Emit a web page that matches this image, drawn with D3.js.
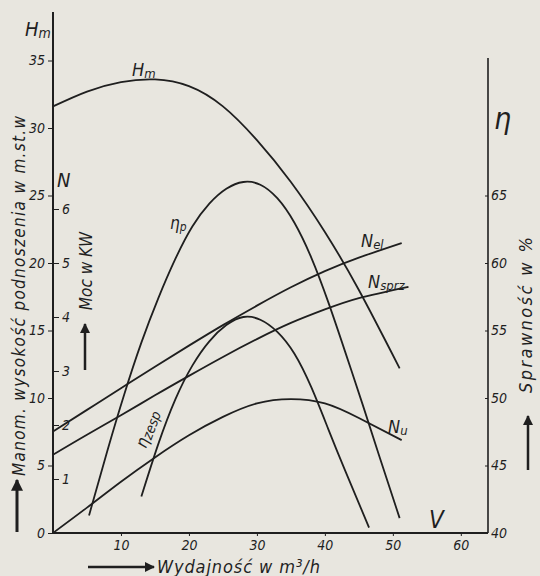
<!DOCTYPE html>
<html>
<head>
<meta charset="utf-8">
<script src="https://cdn.jsdelivr.net/npm/d3@7"></script>
<style>
  body { margin: 0; background: #e8e6df; }
  svg { display: block; }
  text { font-family: "DejaVu Sans Condensed", "DejaVu Sans", sans-serif; font-style: italic; fill: #1f1f1f; }
</style>
</head>
<body>
<script>
// pump characteristic: head, efficiency and power vs. delivery

// tick values
var qTicks = [10, 20, 30, 40, 50, 60];
var hTicks = [0, 5, 10, 15, 20, 25, 30, 35];
var nTicks = [1, 2, 3, 4, 5, 6];
var etaTicks = [40, 45, 50, 55, 60, 65];

// head H_m [m]
var hmQ = [0, 5, 10, 15, 20, 25, 30, 35, 40, 45, 51];
var hmVal = [31.6, 32.7, 33.4, 33.6, 33.1, 31.6, 29.1, 26.0, 22.3, 18.0, 12.2];

// pump efficiency [%]
var etaPQ = [5.3, 8, 10.5, 13, 15.5, 18, 20.5, 23, 25.5, 28, 30.5, 33, 35.5, 38, 40.5, 43, 45.5, 48, 51];
var etaPVal = [41.3, 46.1, 50.3, 54.1, 57.4, 60.3, 62.7, 64.4, 65.5, 66.0, 65.8, 64.8, 63.0, 60.4, 57.1, 53.4, 49.6, 45.7, 41.1];

// set efficiency [%]
var etaZQ = [13, 15.5, 18, 20.5, 23, 25.5, 28, 30.5, 33, 35.5, 38, 40.5, 43, 46.5];
var etaZVal = [42.7, 46.6, 49.9, 52.4, 54.2, 55.4, 56.0, 55.8, 54.9, 53.3, 50.8, 47.7, 44.6, 40.4];

// power [kW]
var nElQ = [0, 5, 10, 15, 20, 25, 30, 35, 40, 45, 51.3];
var nElVal = [1.88, 2.28, 2.68, 3.08, 3.47, 3.85, 4.21, 4.55, 4.85, 5.1, 5.37];
var nSprQ = [0, 5, 10, 15, 20, 25, 30, 35, 40, 45, 52.3];
var nSprVal = [1.45, 1.82, 2.18, 2.55, 2.91, 3.26, 3.59, 3.89, 4.14, 4.35, 4.56];
var nUQ = [0, 5, 10, 15, 20, 25, 30, 35, 40, 45, 51.3];
var nUVal = [0, 0.47, 0.95, 1.40, 1.81, 2.15, 2.40, 2.48, 2.40, 2.13, 1.72];

var ink = "#1f1f1f";
var W = 540, H = 576;

var svg = d3.select("body").append("svg")
    .attr("width", W)
    .attr("height", H);

var x = d3.scaleLinear().domain([0, 64]).range([53, 488]);
var yH = d3.scaleLinear().domain([0, 35]).range([533, 60.5]);
var yEta = d3.scaleLinear().domain([40, 75]).range([533, 60.5]);
var yN = d3.scaleLinear().domain([0, 6]).range([533, 209]);

// frame lines
svg.append("line").attr("x1", 53).attr("x2", 53).attr("y1", 12).attr("y2", 533)
    .attr("stroke", ink).attr("stroke-width", 2);
svg.append("line").attr("x1", 53).attr("x2", 488).attr("y1", 533).attr("y2", 533)
    .attr("stroke", ink).attr("stroke-width", 2);
svg.append("line").attr("x1", 488).attr("x2", 488).attr("y1", 58).attr("y2", 533)
    .attr("stroke", ink).attr("stroke-width", 1.6);

function styleAxis(g) {
  g.select(".domain").remove();
  g.selectAll(".tick line").attr("stroke", ink).attr("stroke-width", 1);
  g.selectAll(".tick text").attr("fill", ink).style("font-size", "14px")
      .style("font-family", null);
}

var xAxis = svg.append("g").attr("transform", "translate(0,533)")
    .call(d3.axisBottom(x).tickValues(qTicks).tickSize(3).tickPadding(4));
styleAxis(xAxis);

var hAxis = svg.append("g").attr("transform", "translate(53,0)")
    .call(d3.axisLeft(yH).tickValues(hTicks).tickSize(5).tickPadding(3));
styleAxis(hAxis);

var nAxis = svg.append("g").attr("transform", "translate(53,0)")
    .call(d3.axisRight(yN).tickValues(nTicks).tickFormat(d3.format("d")).tickSize(6).tickPadding(3));
styleAxis(nAxis);

var eAxis = svg.append("g").attr("transform", "translate(488,0)")
    .call(d3.axisLeft(yEta).tickValues(etaTicks).tickSize(3));
styleAxis(eAxis);
eAxis.selectAll(".tick text").attr("text-anchor", "start").attr("x", 3);

// curves
function drawCurve(qs, vs, yScale) {
  var pts = qs.map(function(q, i) { return [q, vs[i]]; });
  var line = d3.line()
      .x(function(d) { return x(d[0]); })
      .y(function(d) { return yScale(d[1]); })
      .curve(d3.curveNatural);
  svg.append("path").datum(pts)
      .attr("d", line)
      .attr("fill", "none")
      .attr("stroke", ink)
      .attr("stroke-width", 1.8);
}

drawCurve(hmQ, hmVal, yH);
drawCurve(etaPQ, etaPVal, yEta);
drawCurve(etaZQ, etaZVal, yEta);
drawCurve(nElQ, nElVal, yN);
drawCurve(nSprQ, nSprVal, yN);
drawCurve(nUQ, nUVal, yN);

// labels with small index
function subLabel(px, py, big, small, size, rot, ratio) {
  var t = svg.append("text")
      .attr("transform", "translate(" + px + "," + py + ")" + (rot ? " rotate(" + rot + ")" : ""))
      .style("font-size", size + "px");
  t.append("tspan").text(big);
  t.append("tspan").text(small).style("font-size", Math.round(size * (ratio || 0.7)) + "px").attr("dy", size * 0.12);
  return t;
}

subLabel(25, 36, "H", "m", 20);
subLabel(132, 76, "H", "m", 18);
subLabel(170, 229, "η", "p", 17);
subLabel(146, 449, "η", "zesp", 17, -70, 0.8);
subLabel(361, 247, "N", "el", 18);
subLabel(368, 288, "N", "sprz", 18);
subLabel(388, 433, "N", "u", 18);

svg.append("text").attr("x", 57).attr("y", 187).style("font-size", "20px").text("N");
svg.append("text").attr("x", 494).attr("y", 129).style("font-size", "30px").text("η");
svg.append("text").attr("x", 429).attr("y", 528).style("font-size", "24px").text("V");

// axis titles
svg.append("text")
    .attr("transform", "translate(25,296) rotate(-90)")
    .attr("text-anchor", "middle")
    .attr("textLength", 360)
    .style("font-size", "17px")
    .text("Manom. wysokość podnoszenia w m.st.w");

svg.append("text")
    .attr("transform", "translate(92,271) rotate(-90)")
    .attr("text-anchor", "middle")
    .style("font-size", "17px")
    .text("Moc w KW");

svg.append("text")
    .attr("transform", "translate(532,315) rotate(-90)")
    .attr("text-anchor", "middle")
    .attr("textLength", 156)
    .style("font-size", "18px")
    .text("Sprawność w %");

svg.append("text")
    .attr("x", 157).attr("y", 573)
    .attr("textLength", 163)
    .style("font-size", "18px")
    .text("Wydajność w m³/h");

// arrows
svg.append("defs").append("marker")
    .attr("id", "head")
    .attr("viewBox", "0 0 10 10")
    .attr("refX", 9).attr("refY", 5)
    .attr("markerWidth", 4).attr("markerHeight", 4)
    .attr("markerUnits", "strokeWidth")
    .attr("orient", "auto")
  .append("path")
    .attr("d", "M0,0 L10,5 L0,10 z")
    .attr("fill", ink);

function arrow(x1, y1, x2, y2, w) {
  svg.append("line")
      .attr("x1", x1).attr("y1", y1).attr("x2", x2).attr("y2", y2)
      .attr("stroke", ink).attr("stroke-width", w)
      .attr("marker-end", "url(#head)");
}
arrow(17, 532, 17, 480, 3);
arrow(85, 370, 85, 324, 2.5);
arrow(528, 470, 528, 416, 2.5);
arrow(88, 567, 154, 567, 2.5);
</script>
</body>
</html>
